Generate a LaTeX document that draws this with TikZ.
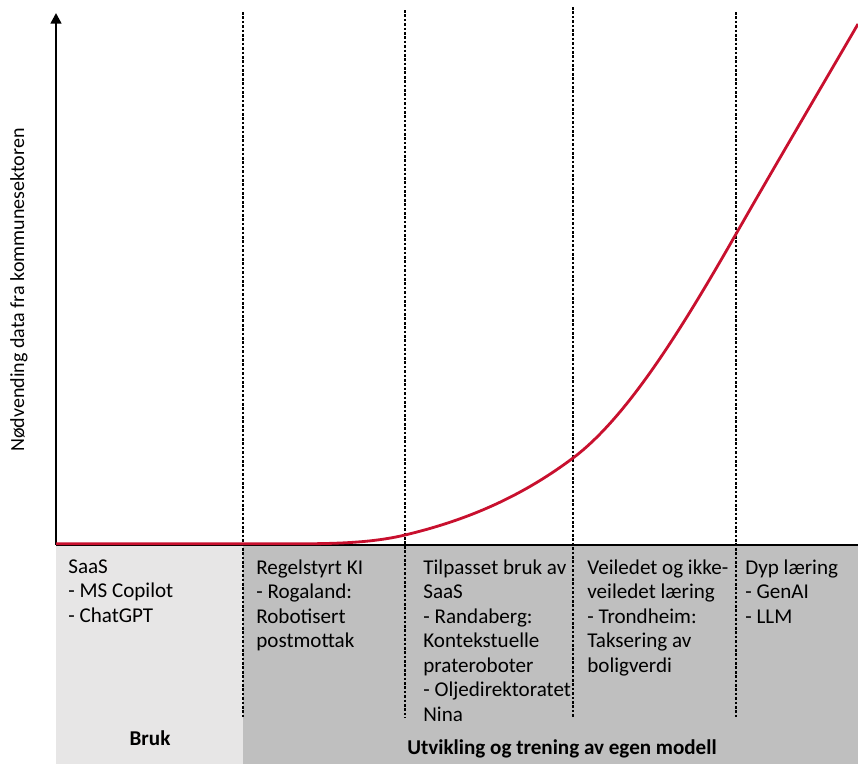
\documentclass[tikz,border=0pt]{standalone}
\usepackage{fontspec}
\setmainfont{Carlito}
\usetikzlibrary{arrows.meta, positioning}
\definecolor{curvered}{RGB}{200,16,46}
\definecolor{brukgray}{RGB}{231,230,230}
\definecolor{devgray}{RGB}{191,191,191}

\begin{document}
\begin{tikzpicture}[x=0.02cm, y=-0.02cm,
  divider/.style={line width=0.6pt, dash pattern=on 1.5pt off 1pt},
  axis/.style={line width=1.4pt},
  stage/.style={anchor=north west, inner sep=0pt, align=left, font=\fontsize{12}{14}\selectfont},
  group/.style={anchor=base, inner sep=0pt, font=\fontsize{12}{14}\selectfont\bfseries}]
\useasboundingbox (0,0) rectangle (858,764);
% bottom bands
\fill[brukgray] (56,545) rectangle (243,764);
\fill[devgray] (243,545) rectangle (858,764);
% stage dividers
\foreach \x/\t in {243/12, 405/10, 573/7, 736/12}
  \draw[divider] (\x,\t) -- (\x,718);
% axes
\coordinate (O) at (56,545);
\coordinate (ytop) at (56,13);
\coordinate (xend) at (858,545);
\draw[axis, -{Triangle[length=6pt, width=6pt]}] (O) -- (ytop);
\draw[axis] (O) -- (xend);
\node[rotate=90, inner sep=0pt, font=\fontsize{11.4}{14}\selectfont] (ylabel) at (19,290) {Nødvending data fra kommunesektoren};
% data curve
\draw[curvered, line width=1.6pt] (56,543.8) -- (290,543.8)
  .. controls (330,543.8) and (370,543.4) .. (405,535)
  .. controls (461,521.6) and (517,500) .. (573,458)
  .. controls (627.3,417.2) and (681.7,329) .. (736,234)
  .. controls (776.7,162.8) and (817.3,94) .. (858,24);
% stages
\node[stage] (saas) at (68,559) {SaaS\\- MS Copilot\\- ChatGPT};
\node[stage] (regel) at (256,559) {Regelstyrt KI\\- Rogaland:\\Robotisert\\postmottak};
\node[stage] (tilpasset) at (423,559) {Tilpasset bruk av\\SaaS\\- Randaberg:\\Kontekstuelle\\prateroboter\\- Oljedirektoratet\\Nina};
\node[stage] (veiledet) at (587,559) {Veiledet og ikke-\\veiledet læring\\- Trondheim:\\Taksering av\\boligverdi};
\node[stage] (dyp) at (745,559) {Dyp læring\\- GenAI\\- LLM};
% groups
\node[group] (bruk) at (150,745) {Bruk};
\node[group] (utvikling) at (562,754) {Utvikling og trening av egen modell};
\end{tikzpicture}
\end{document}
